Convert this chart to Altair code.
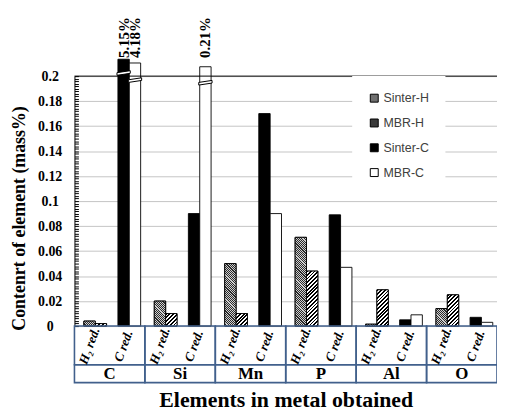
import altair as alt
import pandas as pd

# ---------------- data ----------------
elements = ["C", "Si", "Mn", "P", "Al", "O"]
series = ["Sinter-H", "MBR-H", "Sinter-C", "MBR-C"]
sinter_h = [0.004, 0.020, 0.050, 0.071, 0.0015, 0.014]
mbr_h = [0.002, 0.010, 0.010, 0.044, 0.029, 0.025]
sinter_c = [5.15, 0.090, 0.170, 0.089, 0.005, 0.007]
mbr_c = [4.18, 0.210, 0.090, 0.047, 0.009, 0.003]

# bars running past the 0.2 limit: label, drawn top and break position
broken_element = ["C", "C", "Si"]
broken_series = ["Sinter-C", "MBR-C", "MBR-C"]
broken_label = ["5.15%", "4.18%", "0.21%"]
broken_top = [0.2135, 0.2105, 0.2075]
broken_cut = [0.2025, 0.1968, 0.1947]

y_ticks = [0, 0.02, 0.04, 0.06, 0.08, 0.1, 0.12, 0.14, 0.16, 0.18, 0.2]
minor_ticks = [round(i * 0.002, 3) for i in range(101)]
sub_labels = ["H\u2082 red.", "C red."]
slots = ["Sinter-H", "MBR-H", "gap", "Sinter-C", "MBR-C"]

# ---------------- tables ----------------
values = {"Sinter-H": sinter_h, "MBR-H": mbr_h, "Sinter-C": sinter_c, "MBR-C": mbr_c}
rows = []
for i, e in enumerate(elements):
    for s in series:
        v = values[s][i]
        shown = v
        for be, bs, bt in zip(broken_element, broken_series, broken_top):
            if be == e and bs == s:
                shown = bt
        rows.append({"element": e, "series": s, "slot": s, "value": v, "shown": shown})
df = pd.DataFrame(rows)

broken_df = pd.DataFrame({"element": broken_element, "slot": broken_series,
                          "label": broken_label, "cut": broken_cut})
sub_df = pd.DataFrame([{"element": e, "slot": sl, "text": t}
                       for e in elements
                       for sl, t in zip(["Sinter-H", "Sinter-C"], sub_labels)])
table_df = pd.DataFrame({"element": elements})
top_df = pd.DataFrame({"y": [0.2]})

# ---------------- geometry / style ----------------
W, H = 426, 252
PAD_OUT = 0.6
STEP_PX = W / len(elements) / (len(slots) + 2 * PAD_OUT)
PX_PER_UNIT = H / 0.2
SERIF = "Liberation Serif"
TBL = "#41608c"

y_scale = alt.Scale(domain=[0, 0.2], nice=False, zero=True)
x_axis = alt.Axis(title="Elements in metal obtained", labels=False, ticks=False,
                  domain=False, titleFont=SERIF, titleFontSize=22,
                  titleFontWeight="bold", titleColor="black", titlePadding=64)


def X():
    return alt.X("element:N", sort=elements,
                 scale=alt.Scale(domain=elements, paddingInner=0, paddingOuter=0),
                 axis=x_axis)


def XO():
    return alt.XOffset("slot:N", scale=alt.Scale(domain=slots, paddingInner=0,
                                                 paddingOuter=PAD_OUT, align=0.69))


def stripes(h, w, period, frac, c1, c2, direction):
    h = max(h, 0.6)
    n = (w + h) / period
    s = (w + h) * h / (h * h + w * w)
    stops = []
    k = 0
    while k < n:
        a = k / n
        b = min((k + frac) / n, 1.0)
        c = min((k + 1) / n, 1.0)
        stops += [{"offset": a, "color": c1}, {"offset": b, "color": c1},
                  {"offset": b, "color": c2}, {"offset": c, "color": c2}]
        k += 1
    if direction == "/":
        x1, y1, x2, y2 = 0, 0, s * w / h, s
    else:
        x1, y1, x2, y2 = 0, 1, s * w / h, 1 - s
    return {"gradient": "linear", "x1": x1, "y1": y1, "x2": x2, "y2": y2, "stops": stops}


# ---------------- layers ----------------
bars = alt.Chart(df).mark_bar(stroke="black", strokeWidth=0.9).encode(
    x=X(), xOffset=XO(),
    y=alt.Y("shown:Q", scale=y_scale,
            axis=alt.Axis(values=y_ticks, title="Contenrt of element (mass%)",
                          labelFont=SERIF, labelFontSize=14, labelFontWeight="bold",
                          labelColor="black", labelAlign="center", labelPadding=25,
                          labelExpr="format(datum.value, '~g')",
                          ticks=False, domain=True, domainColor="black", domainWidth=1,
                          grid=True, gridColor="#c4c4c4", gridWidth=1,
                          titleFont=SERIF, titleFontSize=18, titleFontWeight="bold",
                          titleColor="black", titleAngle=270, titleX=-55, titleY=143,
                          titleAlign="center", titleBaseline="middle")),
    color=alt.Color("series:N", scale=alt.Scale(domain=series,
                    range=["#6f6f6f", "#3a3a3a", "black", "white"]),
                    legend=alt.Legend(title=None)),
)

overlays = []
for i, e in enumerate(elements):
    for s, vals, per, fr, c1, c2, d in [("Sinter-H", sinter_h, 2.2, 0.5, "#2a2a2a", "#d0d0d0", "\\"),
                                        ("MBR-H", mbr_h, 3.8, 0.5, "black", "white", "/")]:
        grad = stripes(vals[i] * PX_PER_UNIT, STEP_PX, per, fr, c1, c2, d)
        overlays.append(
            alt.Chart(df).transform_filter(
                f"datum.element == '{e}' && datum.series == '{s}'"
            ).mark_bar(fill=grad, stroke="black", strokeWidth=0.9).encode(
                x=X(), xOffset=XO(), y=alt.Y("shown:Q", scale=y_scale, axis=None))
        )

breaks = alt.Chart(broken_df).mark_point(
    shape="M -1 -0.05 L 1 -0.35 L 1 0.05 L -1 0.35 Z", size=180, filled=True,
    fill="white", stroke="black", strokeWidth=1, opacity=1
).encode(x=X(), xOffset=XO(), y=alt.Y("cut:Q", scale=y_scale, axis=None))

pct = alt.Chart(broken_df).mark_text(
    angle=270, align="left", baseline="middle", font=SERIF, fontSize=15,
    fontWeight="bold", color="black"
).encode(x=X(), xOffset=XO(), y=alt.YDatum(0.2145, scale=y_scale, axis=None),
         text="label:N")

top_rule = alt.Chart(top_df).mark_rule(color="black", strokeWidth=1).encode(
    y=alt.Y("y:Q", scale=y_scale,
            axis=alt.Axis(values=minor_ticks, orient="left", offset=-4, labels=False,
                          domain=False, grid=False, ticks=True, tickSize=4,
                          tickColor="black", tickWidth=1, title=None))
)

row1 = alt.Chart(table_df).mark_rect(fillOpacity=0, stroke=TBL, strokeWidth=1.6).encode(
    x=X(), y=alt.value(H), y2=alt.value(H + 39))
row2 = alt.Chart(table_df).mark_rect(fillOpacity=0, stroke=TBL, strokeWidth=1.6).encode(
    x=X(), y=alt.value(H + 39), y2=alt.value(H + 57))
names = alt.Chart(table_df).mark_text(
    font=SERIF, fontSize=17, fontWeight="bold", color="black", baseline="middle"
).encode(x=X(), y=alt.value(H + 48.5), text="element:N")
subs = alt.Chart(sub_df).mark_text(
    angle=290, align="center", baseline="middle", font=SERIF, fontSize=13,
    fontWeight="bold", fontStyle="italic", color="black"
).encode(x=X(), xOffset=XO(), y=alt.value(H + 20), text="text:N")

chart = alt.layer(
    bars, *overlays, breaks, pct, top_rule, row1, row2, names, subs
).resolve_axis(y="independent").properties(
    width=W, height=H,
    autosize=alt.AutoSizeParams(type="none"),
    padding={"left": 67, "top": 67, "right": 0, "bottom": 90},
    background="white",
).configure_view(stroke=None).configure_legend(
    orient="none", legendX=280, legendY=0, padding=16, fillColor="white",
    symbolType="square", symbolSize=64, symbolStrokeColor="black",
    symbolStrokeWidth=1, labelFont="Liberation Sans", labelFontSize=12.5,
    labelColor="#404040", rowPadding=12, labelOffset=3,
)

chart.save("out.html", embed_options={"renderer": "svg", "actions": False})
